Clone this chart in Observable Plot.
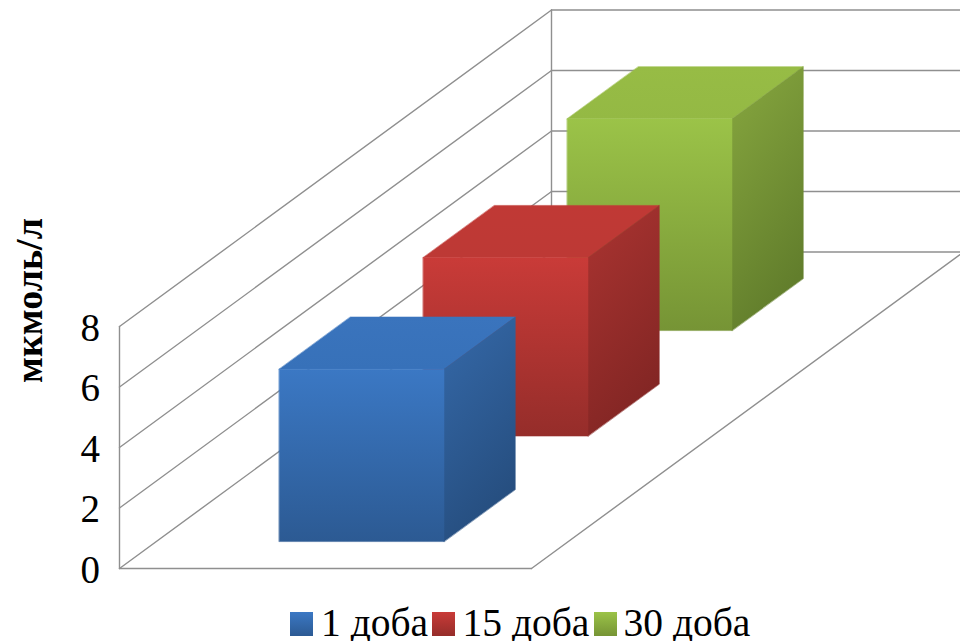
<!DOCTYPE html>
<html>
<head>
<meta charset="utf-8">
<script src="https://cdn.jsdelivr.net/npm/d3@7"></script>
<script src="https://cdn.jsdelivr.net/npm/@observablehq/plot@0.6"></script>
<style>
  html, body { margin: 0; padding: 0; background: #fff; overflow: hidden; }
  #chart svg { display: block; }
  .legend {
    position: relative; height: 36px;
    font: 39.5px/36px "Liberation Serif", serif; color: #000;
  }
  .legend span { position: absolute; top: 0; white-space: pre; }
  .legend i { position: absolute; top: 7px; width: 23px; height: 24px; }
</style>
</head>
<body>
<div id="chart"></div>
<div class="legend" id="legend"></div>
<script>
// Measured values per time point
const days = ["1 доба", "15 доба", "30 доба"];
const values = [5.7, 5.9, 7.0];
const valueTicks = [0, 2, 4, 6, 8];
const axisTitle = "мкмоль/л";

// Face shades per series: front top/bottom, side top/bottom, roof top/bottom
const shades = [
  ["#3b78c4", "#2c5a93", "#3569a9", "#264e7f", "#3a74bd", "#3771b9"],
  ["#c93b38", "#952d2a", "#ab3431", "#832624", "#c03935", "#bd3935"],
  ["#9bc348", "#769435", "#87a73f", "#627e2c", "#97bc45", "#94b944"]
];
const gridColor = "#8f8f8f";
const legendLeft = [290, 432, 594];
const legendText = [321, 462.5, 623.5];

// Oblique projection: x across the floor (0..1), v on the value axis, d in depth (0..3)
const px = (x, d) => 119 + 412 * x + 144 * d;
const py = (v, d) => 568 - 30.25 * v - 105.5 * d;
const pt = (x, v, d) => ({x: px(x, d), y: py(v, d)});

const barLeft = 0.2985, barRight = 0.6985;
const depthFront = 0.255, depthBack = 0.75;

// Wall, floor and gridline segments
const lineSegs = [];
for (const v of valueTicks) {
  lineSegs.push([pt(0, v, 0), pt(0, v, 3)]);
  lineSegs.push([pt(0, v, 3), pt(1, v, 3)]);
}
lineSegs.push([pt(0, 0, 0), pt(0, 8, 0)]);
lineSegs.push([pt(0, 0, 3), pt(0, 8, 3)]);
lineSegs.push([pt(0, 0, 0), pt(1, 0, 0)]);
lineSegs.push([pt(1, 0, 0), pt(1, 0, 3)]);

const gridMarks = lineSegs.map(seg =>
  Plot.line(seg, {x: "x", y: "y", stroke: gridColor, strokeWidth: 1.4, clip: true})
);

const faceMark = (points, id) =>
  Plot.line(points, {x: "x", y: "y", curve: "linear-closed", fill: `url(#${id})`, stroke: `url(#${id})`, strokeWidth: 0.5});

// Each bar is three faces; the furthest bar is drawn first
const barMarks = [];
d3.range(days.length).reverse().forEach(i => {
  const f = i + depthFront, b = i + depthBack, v = values[i];
  barMarks.push(
    faceMark([pt(barLeft, v, f), pt(barRight, v, f), pt(barRight, v, b), pt(barLeft, v, b)], `roof${i}`),
    faceMark([pt(barRight, 0, f), pt(barRight, v, f), pt(barRight, v, b), pt(barRight, 0, b)], `side${i}`),
    faceMark([pt(barLeft, 0, f), pt(barRight, 0, f), pt(barRight, v, f), pt(barLeft, v, f)], `front${i}`)
  );
});

// Gradient definitions for the bar faces
const gradient = (id, c0, c1, x2, y2) => {
  const g = d3.create("svg:linearGradient").attr("id", id)
    .attr("x1", 0).attr("y1", 0).attr("x2", x2).attr("y2", y2);
  g.append("stop").attr("offset", 0).attr("stop-color", c0);
  g.append("stop").attr("offset", 1).attr("stop-color", c1);
  return g.node();
};
const defsMark = () => {
  const defs = d3.create("svg:defs");
  shades.forEach((s, i) => {
    defs.append(() => gradient(`front${i}`, s[0], s[1], 0, 1));
    defs.append(() => gradient(`side${i}`, s[2], s[3], 0.35, 1));
    defs.append(() => gradient(`roof${i}`, s[4], s[5], 0, 1));
  });
  return defs.node();
};

const chart = Plot.plot({
  width: 960,
  height: 605,
  margin: 0,
  x: {domain: [0, 960], range: [0, 960], axis: null},
  y: {domain: [0, 605], range: [0, 605], axis: null},
  style: {background: "transparent", fontFamily: "'Liberation Serif', serif"},
  marks: [
    defsMark,
    ...gridMarks,
    ...barMarks,
    Plot.text(valueTicks, {
      x: () => px(0, 0), y: v => py(v, 0),
      text: v => String(v), textAnchor: "end", dx: -19.5, dy: 2,
      fontSize: 39, fill: "#000"
    }),
    Plot.text([axisTitle], {
      x: () => 29, y: () => 300, text: d => d, rotate: -90,
      fontSize: 38, fontWeight: "bold", fill: "#000"
    })
  ]
});
document.getElementById("chart").append(chart);

// Legend row under the chart
const legend = d3.select("#legend");
days.forEach((label, i) => {
  legend.append("i")
    .style("left", legendLeft[i] + "px")
    .style("background", `linear-gradient(${shades[i][0]}, ${shades[i][1]})`);
  legend.append("span").style("left", legendText[i] + "px").text(label);
});
</script>
</body>
</html>
